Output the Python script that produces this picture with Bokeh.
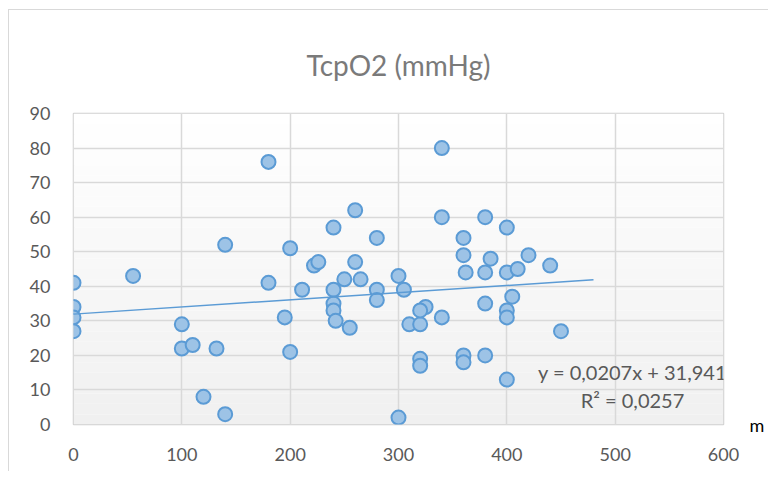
from bokeh.plotting import figure
from bokeh.models import (Range1d, Label, BoxAnnotation, SingleIntervalTicker,
                          LinearAxis, FixedTicker)
from bokeh.embed import file_html
from bokeh.resources import INLINE

# ---- data ----
distance_m = [0, 0, 0, 0, 55, 100, 100, 110, 132, 120, 140, 140,
              180, 180, 200, 195, 200, 211, 222, 226, 240, 240, 240, 240, 242,
              250, 255, 260, 260, 265, 280, 280, 280, 300, 305, 300, 310,
              320, 325, 320, 320, 320, 340, 340, 340, 360, 360, 362, 360, 360,
              380, 380, 380, 380, 385, 400, 420, 400, 410, 440, 405, 400, 400,
              450, 400]
tcpo2 = [41, 34, 31, 27, 43, 29, 22, 23, 22, 8, 3, 52,
         76, 41, 51, 31, 21, 39, 46, 47, 57, 39, 35, 33, 30,
         42, 28, 62, 47, 42, 54, 39, 36, 43, 39, 2, 29,
         29, 34, 33, 19, 17, 80, 60, 31, 54, 49, 44, 20, 18,
         60, 44, 35, 20, 48, 57, 49, 44, 45, 46, 37, 33, 31,
         27, 13]
trend_slope = 0.0207
trend_intercept = 31.941
trend_x = [0, 480]
trend_y = [trend_intercept + trend_slope * v for v in trend_x]
equation_text = "y = 0,0207x + 31,941"
r2_text = "R² = 0,0257"
title_text = "TcpO2 (mmHg)"
x_unit = "m"

FONT = "Lato"
GRAY = "#595959"

p = figure(width=760, height=462, output_backend="svg", toolbar_location=None,
           x_range=Range1d(0, 600), y_range=Range1d(0, 90),
           min_border_left=64, min_border_right=46, min_border_top=103,
           min_border_bottom=48, title=title_text)
p.styles = {"border-left": "1px solid #D9D9D9", "border-top": "1px solid #D9D9D9",
            "margin-left": "8px", "margin-top": "9px"}

p.title.text_font = FONT
p.title.text_font_size = "28px"
p.title.text_font_style = "normal"
p.title.text_color = "#7A7A7A"
p.title.align = "center"
p.title.standoff = 64

p.background_fill_color = "white"
p.border_fill_color = "white"
p.outline_line_color = "#D0D0D0"
p.outline_line_width = 1.5

# subtle vertical gradient of the plot area
nb = 30
for i in range(nb):
    g = int(round(240 + 15 * (i + 0.5) / nb))
    p.add_layout(BoxAnnotation(bottom=90 * i / nb, top=90 * (i + 1) / nb,
                               fill_color=f"#{g:02x}{g:02x}{g:02x}", fill_alpha=1,
                               line_alpha=0, level="image"))

# unit label "m" beside the x axis, via a one-tick right axis at y = 0
unit_axis = LinearAxis(ticker=FixedTicker(ticks=[0]),
                       major_label_overrides={0: x_unit})
p.add_layout(unit_axis, "right")

for ax in (p.xaxis[0], p.yaxis[0], unit_axis):
    ax.axis_line_color = None
    ax.major_tick_line_color = None
    ax.minor_tick_line_color = None
    ax.major_tick_out = 0
    ax.major_tick_in = 0
    ax.minor_tick_out = 0
    ax.minor_tick_in = 0
    ax.major_label_text_font = FONT
    ax.major_label_text_font_size = "18px"
    ax.major_label_text_color = GRAY
unit_axis.major_label_text_color = "black"
unit_axis.major_label_standoff = 26
p.xaxis[0].ticker = SingleIntervalTicker(interval=100)
p.yaxis[0].ticker = SingleIntervalTicker(interval=10)
p.xaxis[0].major_label_standoff = 23
p.yaxis[0].major_label_standoff = 23

p.xgrid.grid_line_color = "#D9D9D9"
p.ygrid.grid_line_color = "#D9D9D9"
p.xgrid.grid_line_width = 1.5
p.ygrid.grid_line_width = 1.5

p.scatter(distance_m, tcpo2, size=14, marker="circle",
          fill_color="#9DC3E6", line_color="#5B9BD5", line_width=2)
p.line(trend_x, trend_y, line_color="#5B9BD5", line_width=1.5)

p.add_layout(Label(x=516, y=15.2, text=equation_text, text_align="center",
                   text_baseline="middle", text_font=FONT, text_font_size="20px",
                   text_color=GRAY))
p.add_layout(Label(x=516, y=7.0, text=r2_text, text_align="center",
                   text_baseline="middle", text_font=FONT, text_font_size="20px",
                   text_color=GRAY))

open("out.html", "w").write(file_html(p, INLINE))
